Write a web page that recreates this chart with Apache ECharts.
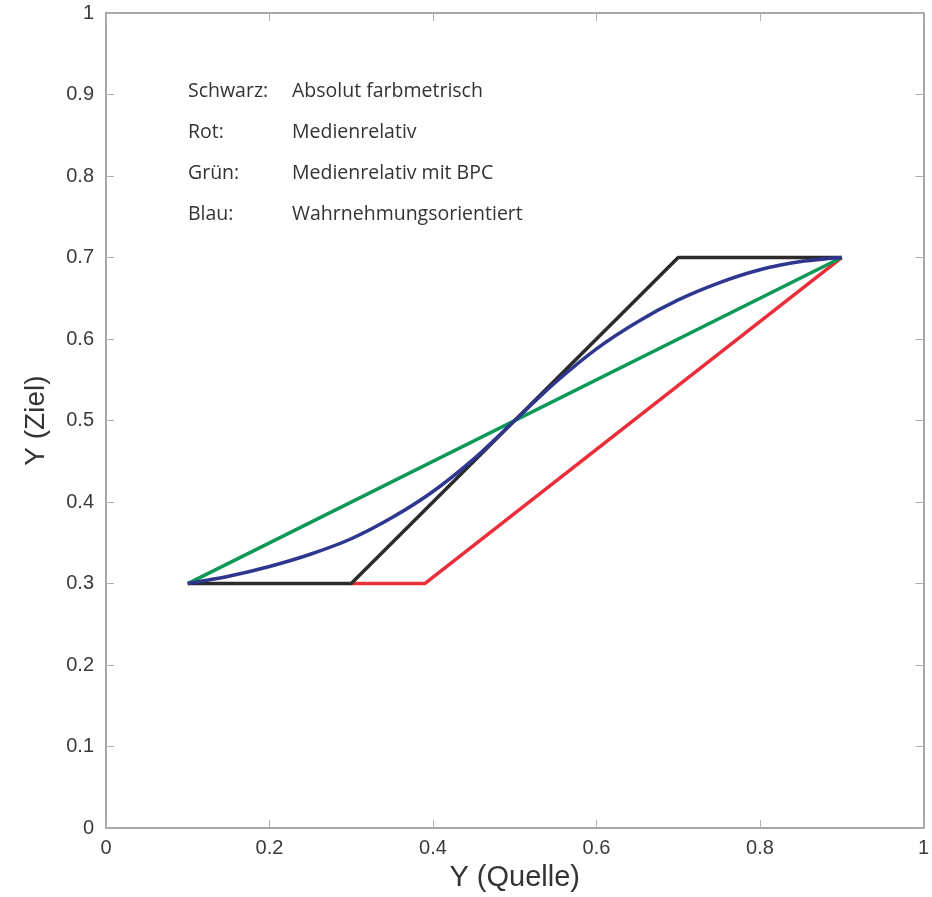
<!DOCTYPE html>
<html>
<head>
<meta charset="utf-8">
<script src="https://cdn.jsdelivr.net/npm/echarts@6/dist/echarts.min.js"></script>
<style>html,body{margin:0;padding:0;background:#fff;overflow:hidden;}#c{width:932px;height:897px;}</style>
</head>
<body>
<div id="c"></div>
<script>
// Data (x = Y Quelle, y = Y Ziel)
const schwarzX = [0.1, 0.3, 0.7, 0.9];
const schwarzY = [0.3, 0.3, 0.7, 0.7];
const rotX = [0.3, 0.39, 0.9];
const rotY = [0.3, 0.3, 0.7];
const gruenX = [0.1, 0.9];
const gruenY = [0.3, 0.7];
const blauX = [0.1, 0.15, 0.2, 0.25, 0.3, 0.35, 0.4, 0.45, 0.5, 0.55, 0.6, 0.65, 0.7, 0.75, 0.8, 0.85, 0.9];
const blauY = [0.3, 0.309, 0.321, 0.336, 0.355, 0.381, 0.413, 0.453, 0.5, 0.547, 0.588, 0.621, 0.648, 0.669, 0.685, 0.695, 0.7];
const legendLabels = ["Schwarz:", "Rot:", "Grün:", "Blau:"];
const legendTexts = ["Absolut farbmetrisch", "Medienrelativ", "Medienrelativ mit BPC", "Wahrnehmungsorientiert"];
const xTitle = "Y (Quelle)";
const yTitle = "Y (Ziel)";

function pairs(xs, ys) { return xs.map((x, i) => [x, ys[i]]); }

const chart = echarts.init(document.getElementById('c'), null, { renderer: 'canvas' });
const axisLineStyle = { color: '#8a8a8a', width: 1.5 };
const tickStyle = { color: '#b0b0b0', width: 1 };
const sansFont = 'Liberation Sans, Arial, sans-serif';
const labelFont = { fontFamily: sansFont, fontSize: 20, color: '#3a3a3a' };
const annFont = 'Open Sans, sans-serif';

const graphics = [];
legendLabels.forEach((t, i) => {
  graphics.push({ type: 'text', x: 188, y: 91 + i * 41, style: { text: t, font: '19.5px ' + annFont, fill: '#333', verticalAlign: 'middle' } });
  graphics.push({ type: 'text', x: 292, y: 91 + i * 41, style: { text: legendTexts[i], font: '19.5px ' + annFont, fill: '#333', verticalAlign: 'middle' } });
});

chart.setOption({
  animation: false,
  backgroundColor: '#fff',
  grid: { left: 106, right: 4, top: 13, bottom: 64, containLabel: false },
  xAxis: [
    { type: 'value', min: 0, max: 1, interval: 0.2, position: 'bottom',
      name: xTitle, nameLocation: 'middle', nameGap: 34,
      nameTextStyle: { fontFamily: sansFont, fontSize: 29, color: '#333' },
      axisLine: { show: true, onZero: false, lineStyle: axisLineStyle },
      axisTick: { show: true, inside: true, length: 8, lineStyle: tickStyle },
      axisLabel: Object.assign({ margin: 10 }, labelFont),
      splitLine: { show: false } },
    { type: 'value', min: 0, max: 1, interval: 0.2, position: 'top',
      axisLine: { show: true, onZero: false, lineStyle: axisLineStyle },
      axisTick: { show: true, inside: true, length: 8, lineStyle: tickStyle },
      axisLabel: { show: false }, splitLine: { show: false } }
  ],
  yAxis: [
    { type: 'value', min: 0, max: 1, interval: 0.1, position: 'left',
      name: yTitle, nameLocation: 'middle', nameGap: 56, nameRotate: 90,
      nameTextStyle: { fontFamily: sansFont, fontSize: 28, color: '#333' },
      axisLine: { show: true, onZero: false, lineStyle: axisLineStyle },
      axisTick: { show: true, inside: true, length: 8, lineStyle: tickStyle },
      axisLabel: Object.assign({ margin: 12 }, labelFont),
      splitLine: { show: false } },
    { type: 'value', min: 0, max: 1, interval: 0.1, position: 'right',
      axisLine: { show: true, onZero: false, lineStyle: axisLineStyle },
      axisTick: { show: true, inside: true, length: 8, lineStyle: tickStyle },
      axisLabel: { show: false }, splitLine: { show: false } }
  ],
  graphic: graphics,
  series: [
    { type: 'line', data: pairs(rotX, rotY), showSymbol: false, lineStyle: { color: '#ec2d3a', width: 3.5 }, z: 2 },
    { type: 'line', data: pairs(gruenX, gruenY), showSymbol: false, lineStyle: { color: '#0b9a56', width: 3.5 }, z: 3 },
    { type: 'line', data: pairs(schwarzX, schwarzY), showSymbol: false, lineStyle: { color: '#2b2b2b', width: 3.5 }, z: 4 },
    { type: 'line', data: pairs(blauX, blauY), smooth: 0.3, showSymbol: false, lineStyle: { color: '#2f3690', width: 3.5 }, z: 5 }
  ]
});
</script>
</body>
</html>
